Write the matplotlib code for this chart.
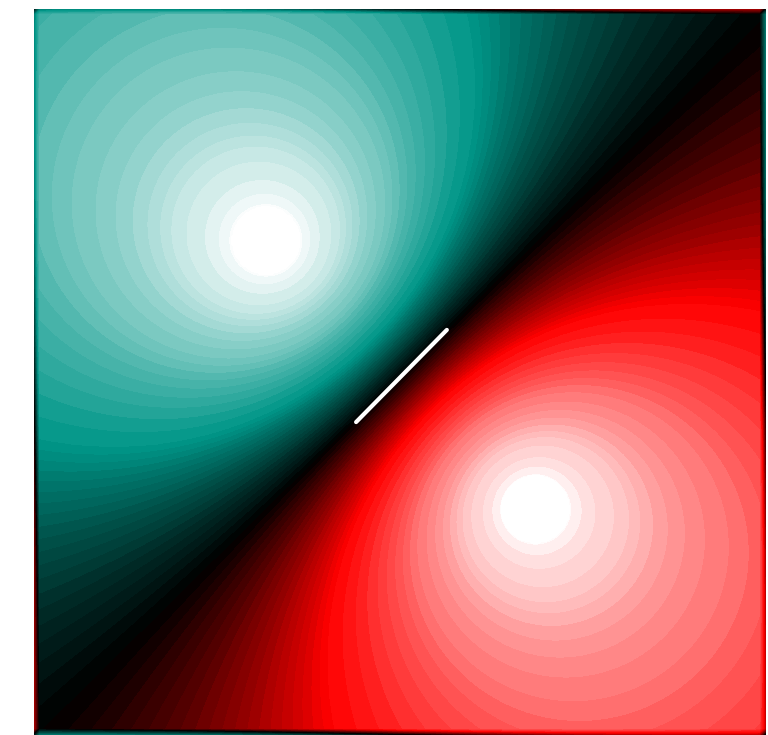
import numpy as np
import matplotlib
matplotlib.use('Agg')
import matplotlib.pyplot as plt
from matplotlib.colors import LinearSegmentedColormap

# two opposite line charges in the unit box
pole_x = [0.320, 0.682]
pole_y = [0.678, 0.314]
charge = [1.0, -1.0]

# segment drawn on the zero line
seg_x = [0.440, 0.564]
seg_y = [0.431, 0.558]

# potential values where the colour ramp changes: black -> pure hue -> pale -> white
ramp_phi = [0.0, 0.5, 1.0, 1.6, 2.4]
ramp_t = [0.0, 0.5, 0.72, 0.89, 0.98]

n_grid = 500
n_wrap = 4   # samples blended with the opposite side at each edge

x = np.linspace(0, 1, n_grid)
y = np.linspace(0, 1, n_grid)
X, Y = np.meshgrid(x, y)

phi = np.zeros_like(X)
for px, py, q in zip(pole_x, pole_y, charge):
    r = np.hypot(X - px, Y - py)
    phi -= q * np.log(np.maximum(r, 1e-6))

# periodic wrap: blend the outer samples with the opposite edge
for i in range(n_wrap):
    w = 0.5 * (1 - i / n_wrap)
    lo, hi = phi[i, :].copy(), phi[-1 - i, :].copy()
    phi[i, :] = (1 - w) * lo + w * hi
    phi[-1 - i, :] = (1 - w) * hi + w * lo
for i in range(n_wrap):
    w = 0.5 * (1 - i / n_wrap)
    lo, hi = phi[:, i].copy(), phi[:, -1 - i].copy()
    phi[:, i] = (1 - w) * lo + w * hi
    phi[:, -1 - i] = (1 - w) * hi + w * lo

# map |phi| onto the colour coordinate, leave the cores unfilled
a = np.abs(phi)
t = np.sign(phi) * np.interp(a, ramp_phi, ramp_t)
t[a > ramp_phi[-1]] = np.nan

cmap = LinearSegmentedColormap.from_list(
    'dipole',
    [(0.0, 'white'), (0.25, '#ff0000'), (0.5, 'black'),
     (0.75, '#009688'), (1.0, 'white')])

fig = plt.figure(figsize=(7.68, 7.35), dpi=100)
ax = fig.add_axes([34 / 768, 0, 732 / 768, 726 / 735])
ax.contourf(X, Y, t, levels=np.linspace(-1, 1, 81), cmap=cmap, vmin=-1, vmax=1)
ax.plot(seg_x, seg_y, color='white', lw=3, solid_capstyle='round')
ax.set_xlim(0, 1)
ax.set_ylim(0, 1)
ax.axis('off')

fig.savefig('out.png', dpi=100)
